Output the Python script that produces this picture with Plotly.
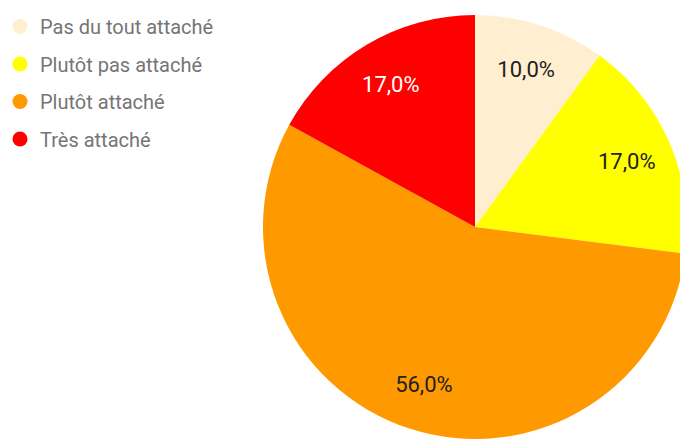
import plotly.graph_objects as go

categories = ["Pas du tout attaché", "Plutôt pas attaché", "Plutôt attaché", "Très attaché"]
values = [10, 17, 56, 17]
colors = ["#FFEFD0", "#FFFF00", "#FF9900", "#FF0000"]
label_colors = ["#212121", "#212121", "#212121", "#FFFFFF"]

W, H = 700, 445
cx, cy, r = 475, 227, 212
dom = dict(x=[(cx - r) / W, (cx + r) / W], y=[(H - cy - r) / H, (H - cy + r) / H])

fig = go.Figure()
fig.add_trace(go.Pie(
    labels=categories, values=values, sort=False, direction="clockwise", rotation=0,
    marker=dict(colors=colors, line=dict(width=0)),
    textinfo="none", showlegend=False, hoverinfo="label+percent", domain=dom,
))
# transparent ring carrying the percentage labels
fig.add_trace(go.Pie(
    labels=categories, values=values, sort=False, direction="clockwise", rotation=0,
    hole=0.56,
    marker=dict(colors=["rgba(0,0,0,0)"] * len(values), line=dict(width=0)),
    texttemplate="%{percent:.1%}", textposition="inside", insidetextorientation="horizontal",
    insidetextfont=dict(family="Roboto", size=22, color=label_colors),
    showlegend=False, hoverinfo="skip", domain=dom,
))
for i, (c, col) in enumerate(zip(categories, colors)):
    fig.add_trace(go.Scatter(
        x=[None], y=[None], mode="markers", name=c, legendgroup=str(i),
        marker=dict(color=col, size=15, symbol="circle"), showlegend=True,
    ))

fig.update_layout(
    width=W, height=H, margin=dict(l=0, r=0, t=0, b=0),
    paper_bgcolor="white", plot_bgcolor="white",
    separators=", ",
    xaxis=dict(visible=False), yaxis=dict(visible=False),
    legend=dict(x=0, y=1 - 7 / H, xanchor="left", yanchor="top",
                font=dict(family="Roboto", size=20, color="#757575"),
                tracegroupgap=8.5, itemsizing="trace", bgcolor="rgba(0,0,0,0)"),
    showlegend=True,
)
fig.write_html("out.html", config={"displayModeBar": False},
               post_script="document.body.style.overflow='hidden';document.body.style.margin='0';")
